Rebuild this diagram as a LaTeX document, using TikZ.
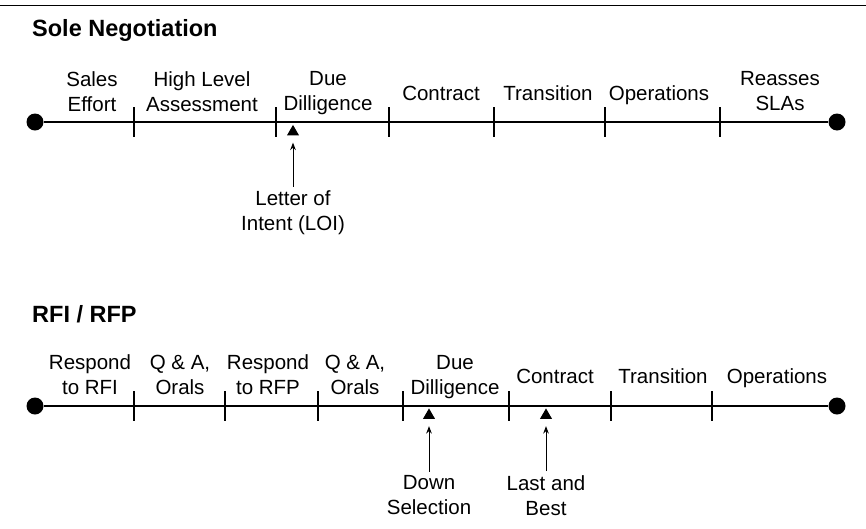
\documentclass[tikz,border=0pt]{standalone}
\usepackage{fontspec}
\setmainfont{Liberation Sans}
\usetikzlibrary{positioning, arrows.meta, shapes.geometric}

\begin{document}
\begin{tikzpicture}[
        x=1pt, y=-1pt, >=Stealth,
        font=\fontsize{20.5}{25}\selectfont,
        dot/.style={circle, fill=black, minimum size=17pt, inner sep=0pt},
        phase/.style={align=center, inner sep=0pt,
                      execute at begin node=\strut, execute at end node=\strut},
        event/.style={align=center, inner xsep=0pt, inner ysep=4pt,
                      execute at begin node=\strut, execute at end node=\strut},
        marker/.style={regular polygon, regular polygon sides=3, fill=black,
                       minimum size=14pt, inner sep=0pt, anchor=north},
        heading/.style={anchor=base west, inner sep=0pt, font=\fontsize{23.5}{28}\selectfont\bfseries},
        axis/.style={line width=1.8pt},
        tick/.style={line width=1.4pt},
        pointer/.style={->, line width=1pt, shorten >=7pt}
    ]
        \useasboundingbox (0,0) rectangle (866,528);

        % --- TOP RULE ---
        \coordinate (rule_w) at (0,5.5);
        \coordinate (rule_e) at (866,5.5);
        \draw[line width=1.6pt] (rule_w) -- (rule_e);

        % --- SOLE NEGOTIATION ---
        \node[heading] (head1) at (32,36) {Sole Negotiation};

        \node[dot] (start1) at (35,122) {};
        \node[dot] (end1) at (837,122) {};
        \draw[axis] (start1) -- (end1);

        % ticks on the first line
        \coordinate (t11) at (134,122);
        \coordinate (t12) at (276,122);
        \coordinate (t13) at (389,122);
        \coordinate (t14) at (494,122);
        \coordinate (t15) at (605,122);
        \coordinate (t16) at (720,122);
        \draw[tick] ([yshift=15pt]t11) -- ([yshift=-15pt]t11);
        \draw[tick] ([yshift=15pt]t12) -- ([yshift=-15pt]t12);
        \draw[tick] ([yshift=15pt]t13) -- ([yshift=-15pt]t13);
        \draw[tick] ([yshift=15pt]t14) -- ([yshift=-15pt]t14);
        \draw[tick] ([yshift=15pt]t15) -- ([yshift=-15pt]t15);
        \draw[tick] ([yshift=15pt]t16) -- ([yshift=-15pt]t16);

        % phases above the first line
        \node[phase] (sales) at (92,95) {Sales\\Effort};
        \node[phase] (hla) at (202,95) {High Level\\Assessment};
        \node[phase] (dd1) at (328,95) {Due\\Dilligence};
        \node[phase] (con1) at (441,95) {Contract};
        \node[phase] (tra1) at (548,95) {Transition};
        \node[phase] (ops1) at (659,95) {Operations};
        \node[phase] (slas) at (780,95) {Reasses\\SLAs};

        % letter of intent
        \node[marker] (m11) at (293,124.5) {};
        \node[event] (loi) at (293,214.5) {Letter of\\Intent (LOI)};
        \draw[pointer] (loi) -- (m11);

        % --- RFI / RFP ---
        \node[heading] (head2) at (32,322) {RFI / RFP};

        \node[dot] (start2) at (35,406) {};
        \node[dot] (end2) at (837,406) {};
        \draw[axis] (start2) -- (end2);

        % ticks on the second line
        \coordinate (t21) at (134,406);
        \coordinate (t22) at (225,406);
        \coordinate (t23) at (318,406);
        \coordinate (t24) at (403,406);
        \coordinate (t25) at (509,406);
        \coordinate (t26) at (611,406);
        \coordinate (t27) at (712,406);
        \draw[tick] ([yshift=15pt]t21) -- ([yshift=-15pt]t21);
        \draw[tick] ([yshift=15pt]t22) -- ([yshift=-15pt]t22);
        \draw[tick] ([yshift=15pt]t23) -- ([yshift=-15pt]t23);
        \draw[tick] ([yshift=15pt]t24) -- ([yshift=-15pt]t24);
        \draw[tick] ([yshift=15pt]t25) -- ([yshift=-15pt]t25);
        \draw[tick] ([yshift=15pt]t26) -- ([yshift=-15pt]t26);
        \draw[tick] ([yshift=15pt]t27) -- ([yshift=-15pt]t27);

        % phases above the second line
        \node[phase] (rfi) at (90,378.5) {Respond\\to RFI};
        \node[phase] (qa1) at (180,378.5) {Q \& A,\\Orals};
        \node[phase] (rfp) at (268,378.5) {Respond\\to RFP};
        \node[phase] (qa2) at (355,378.5) {Q \& A,\\Orals};
        \node[phase] (dd2) at (455,378.5) {Due\\Dilligence};
        \node[phase] (con2) at (555,378.5) {Contract};
        \node[phase] (tra2) at (663,378.5) {Transition};
        \node[phase] (ops2) at (777,378.5) {Operations};

        % down selection, last and best
        \node[marker] (m21) at (429,408) {};
        \node[event] (down) at (429,499) {Down\\Selection};
        \draw[pointer] (down) -- (m21);

        \node[marker] (m22) at (546,408) {};
        \node[event] (best) at (546,499) {Last and\\Best};
        \draw[pointer] (best) -- (m22);

    \end{tikzpicture}
\end{document}
